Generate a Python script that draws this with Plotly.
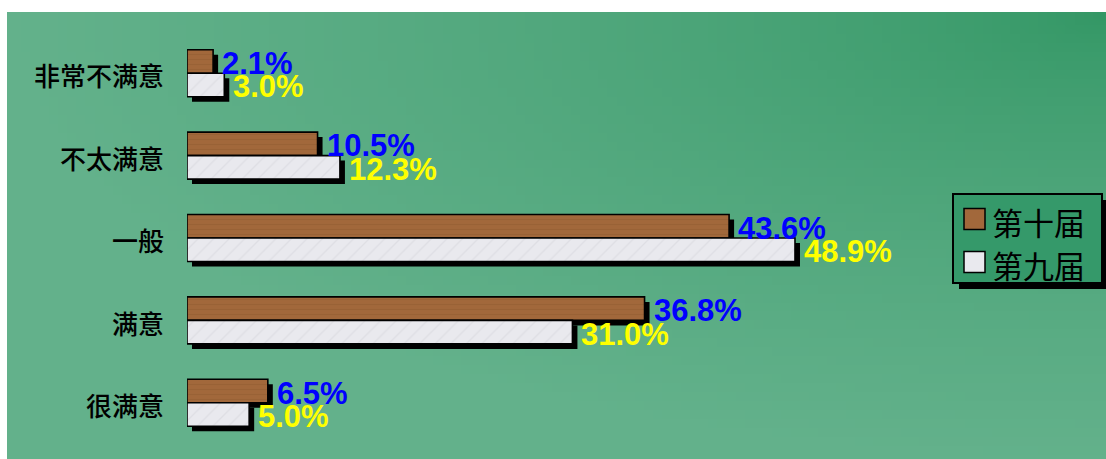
import base64
import struct
import zlib

import plotly.graph_objects as go

# ---- data -------------------------------------------------------------
categories = ["非常不满意", "不太满意", "一般", "满意", "很满意"]
series_names = ["第十届", "第九届"]
tenth_session = [2.1, 10.5, 43.6, 36.8, 6.5]   # 第十届 (%)
ninth_session = [3.0, 12.3, 48.9, 31.0, 5.0]   # 第九届 (%)

# ---- geometry / style -------------------------------------------------
W, H = 1106, 459
PLOT_L, PLOT_R, PLOT_T, PLOT_B = 187, 933, 32, 444
X_MAX = 60.0
BAR_W = 0.285                     # bar thickness in category units
SHADOW_DX = 5 * X_MAX / (PLOT_R - PLOT_L)                  # 5 px in x units
SHADOW_DY = 5 * len(categories) / (PLOT_B - PLOT_T)        # 5 px in y units

WOOD = "#a2683b"
MARBLE = "#e9e9ee"
BG_LIGHT = (99, 177, 139)
BG_DARK = (51, 151, 101)
LEGEND_BG = "#35996a"


def px2x(px):
    return (px - PLOT_L) / (PLOT_R - PLOT_L)


def py2y(py):
    return (PLOT_B - py) / (PLOT_B - PLOT_T)


def gradient_png(w, h):
    """Corner gradient, dark at top-right fading to light elsewhere."""
    rows = []
    for j in range(h):
        v = j / (h - 1)
        row = bytearray([0])
        for i in range(w):
            u = i / (w - 1)
            d = min(((1 - u) ** 2 + v ** 2) ** 0.5, 1.0) ** 0.7
            row += bytes(int(round(BG_DARK[k] + (BG_LIGHT[k] - BG_DARK[k]) * d)) for k in range(3))
        rows.append(bytes(row))
    raw = b"".join(rows)

    def chunk(tag, data):
        c = struct.pack(">I", len(data)) + tag + data
        return c + struct.pack(">I", zlib.crc32(tag + data) & 0xFFFFFFFF)

    png = b"\x89PNG\r\n\x1a\n"
    png += chunk(b"IHDR", struct.pack(">IIBBBBB", w, h, 8, 2, 0, 0, 0))
    png += chunk(b"IDAT", zlib.compress(raw, 9))
    png += chunk(b"IEND", b"")
    return "data:image/png;base64," + base64.b64encode(png).decode()


y_idx = list(range(len(categories)))
series = [
    (series_names[0], tenth_session, WOOD, -BAR_W, "#0000ff",
     dict(shape="-", fgcolor="#7f4f27", fgopacity=0.25, size=5, solidity=0.25)),
    (series_names[1], ninth_session, MARBLE, 0.0, "#ffff00",
     dict(shape="/", fgcolor="#a9a9b3", fgopacity=0.18, size=11, solidity=0.12)),
]

fig = go.Figure()

# drop shadows behind every bar
for name, vals, color, off, _, _ in series:
    fig.add_trace(go.Bar(
        y=y_idx, x=vals, base=SHADOW_DX, orientation="h",
        offset=off + SHADOW_DY, width=BAR_W,
        marker=dict(color="black", line=dict(width=0)),
        showlegend=False, hoverinfo="skip",
    ))

# the bars themselves
for name, vals, color, off, _, pattern in series:
    fig.add_trace(go.Bar(
        y=y_idx, x=vals, orientation="h", name=name,
        offset=off, width=BAR_W,
        marker=dict(color=color, line=dict(color="black", width=1.6), pattern=pattern),
        showlegend=False,
    ))

# value labels
annotations = []
for name, vals, color, off, txt_color, _ in series:
    for i, v in zip(y_idx, vals):
        annotations.append(dict(
            x=v, y=i + off + BAR_W / 2, xref="x", yref="y",
            text=f"{v:.1f}%", showarrow=False,
            xanchor="left", yanchor="middle", xshift=7, yshift=-2,
            font=dict(family="Liberation Sans, Arial", size=31, color=txt_color, weight="bold"),
        ))

# legend box with shadow
LG_L, LG_T, LG_R, LG_B = 953, 194, 1102, 283
shapes = [
    dict(type="rect", xref="paper", yref="paper",
         x0=px2x(LG_L + 6), x1=px2x(LG_R + 6), y0=py2y(LG_B + 6), y1=py2y(LG_T + 6),
         fillcolor="black", line=dict(width=0)),
    dict(type="rect", xref="paper", yref="paper",
         x0=px2x(LG_L), x1=px2x(LG_R), y0=py2y(LG_B), y1=py2y(LG_T),
         fillcolor=LEGEND_BG, line=dict(color="black", width=2)),
]
for k, (name, _, color, _, _, _) in enumerate(series):
    cy = 219 + 43 * k
    shapes.append(dict(
        type="rect", xref="paper", yref="paper",
        x0=px2x(964), x1=px2x(985), y0=py2y(cy + 10.5), y1=py2y(cy - 10.5),
        fillcolor=color, line=dict(color="black", width=1.5),
    ))
    annotations.append(dict(
        x=px2x(990), y=py2y(cy + 2), xref="paper", yref="paper",
        text=name, showarrow=False, xanchor="left", yanchor="middle",
        font=dict(family="Noto Sans CJK SC", size=31, color="black"),
    ))

fig.update_layout(
    width=W, height=H,
    margin=dict(l=PLOT_L, r=W - PLOT_R, t=PLOT_T, b=H - PLOT_B, pad=0),
    paper_bgcolor="white",
    plot_bgcolor="rgba(0,0,0,0)",
    barmode="overlay",
    showlegend=False,
    xaxis=dict(range=[0, X_MAX], visible=False, fixedrange=True),
    yaxis=dict(
        range=[len(categories) - 0.5, -0.5],
        tickvals=y_idx, ticktext=categories,
        showgrid=False, zeroline=False, showline=False, ticks="",
        ticklabelstandoff=22, ticklabelshift=-4,
        tickfont=dict(family="Noto Sans CJK SC", size=26, color="black", weight=500),
        fixedrange=True,
    ),
    images=[dict(
        source=gradient_png(120, 50), xref="paper", yref="paper",
        x=px2x(7), y=py2y(12), sizex=px2x(W) - px2x(7), sizey=py2y(12) - py2y(H),
        sizing="stretch", layer="below", xanchor="left", yanchor="top",
    )],
    shapes=shapes,
    annotations=annotations,
)

fig.write_html("out.html")
